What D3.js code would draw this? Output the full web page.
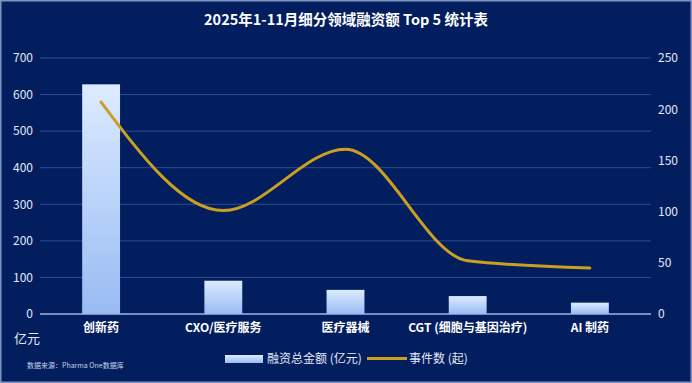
<!DOCTYPE html>
<html>
<head>
<meta charset="utf-8">
<script src="https://cdn.jsdelivr.net/npm/d3@7"></script>
<style>
    body { margin: 0; background: #021e5e; }
    svg text { font-family: "Noto Sans CJK SC", "Noto Sans", sans-serif; }
</style>
</head>
<body>
<svg id="chartSvg"></svg>
<script>
const categories = ['创新药', 'CXO/医疗服务', '医疗器械', 'CGT (细胞与基因治疗)', 'AI 制药']
const amounts = [628, 91, 66, 49, 31]
const events = [207, 101, 161, 52, 45]
const leftTicks = [0, 100, 200, 300, 400, 500, 600, 700]
const rightTicks = [0, 50, 100, 150, 200, 250]

const width = 692
const height = 383
const margin = {top: 58, right: 41, bottom: 69, left: 40}

const svg = d3.select('#chartSvg').attr('width', width).attr('height', height)

// background + border
svg.append('rect')
    .attr('x', 0.75).attr('y', 0.75)
    .attr('width', width - 1.5).attr('height', height - 1.5)
    .attr('fill', '#021e5e')
    .attr('stroke', '#7f93c0')
    .attr('stroke-width', 1.5)

const defs = svg.append('defs')
const grad = defs.append('linearGradient')
    .attr('id', 'barGrad')
    .attr('x1', 0).attr('y1', 0).attr('x2', 0).attr('y2', 1)
grad.append('stop').attr('offset', '0%').attr('stop-color', '#dcebff')
grad.append('stop').attr('offset', '100%').attr('stop-color', '#98bbf3')

const x = d3.scaleBand()
    .domain(categories)
    .range([margin.left, width - margin.right])
    .paddingInner(0.69)
    .paddingOuter(0.345)

const yLeft = d3.scaleLinear().domain([0, 700]).range([height - margin.bottom, margin.top])
const yRight = d3.scaleLinear().domain([0, 250]).range([height - margin.bottom, margin.top])

// title
svg.append('text')
    .attr('x', width / 2).attr('y', 25)
    .attr('text-anchor', 'middle')
    .attr('fill', '#ffffff')
    .attr('font-size', 14.5)
    .attr('font-weight', 'bold')
    .text('2025年1-11月细分领域融资额 Top 5 统计表')

// gridlines
svg.append('g')
    .selectAll('line')
    .data(leftTicks.filter(d => d > 0))
    .join('line')
    .attr('x1', margin.left).attr('x2', width - margin.right)
    .attr('y1', d => yLeft(d)).attr('y2', d => yLeft(d))
    .attr('stroke', '#2d4d90')
    .attr('stroke-width', 1)

// left axis
const leftAxis = svg.append('g')
    .attr('transform', 'translate(' + (margin.left - 7) + ',0)')
    .call(d3.axisLeft(yLeft).tickValues(leftTicks).tickSize(0).tickPadding(0))
leftAxis.select('.domain').remove()
leftAxis.selectAll('text').attr('fill', '#e3e9f7').attr('font-size', 12)

// right axis
const rightAxis = svg.append('g')
    .attr('transform', 'translate(' + (width - margin.right + 7) + ',0)')
    .call(d3.axisRight(yRight).tickValues(rightTicks).tickSize(0).tickPadding(0))
rightAxis.select('.domain').remove()
rightAxis.selectAll('text').attr('fill', '#e3e9f7').attr('font-size', 12)

// bars
svg.append('g')
    .selectAll('rect')
    .data(amounts)
    .join('rect')
    .attr('x', (d, i) => x(categories[i]))
    .attr('y', d => yLeft(d))
    .attr('width', x.bandwidth())
    .attr('height', d => yLeft(0) - yLeft(d))
    .attr('fill', 'url(#barGrad)')

// baseline
svg.append('line')
    .attr('x1', margin.left).attr('x2', width - margin.right)
    .attr('y1', yLeft(0)).attr('y2', yLeft(0))
    .attr('stroke', '#9fb4e2')
    .attr('stroke-width', 1.5)

// category labels
svg.append('g')
    .selectAll('text')
    .data(categories)
    .join('text')
    .attr('x', d => x(d) + x.bandwidth() / 2)
    .attr('y', 332)
    .attr('text-anchor', 'middle')
    .attr('fill', '#ffffff')
    .attr('font-size', 12)
    .attr('font-weight', 'bold')
    .text(d => d)

// line
const line = d3.line()
    .x((d, i) => x(categories[i]) + x.bandwidth() / 2)
    .y(d => yRight(d))
    .curve(d3.curveMonotoneX)

svg.append('path')
    .datum(events)
    .attr('d', line)
    .attr('fill', 'none')
    .attr('stroke', '#c9a021')
    .attr('stroke-width', 3)
    .attr('stroke-linecap', 'round')

// unit label
svg.append('text')
    .attr('x', 14).attr('y', 343)
    .attr('fill', '#e3e9f7')
    .attr('font-size', 13)
    .text('亿元')

// legend
const legend = svg.append('g')
legend.append('rect')
    .attr('x', 225).attr('y', 355)
    .attr('width', 38).attr('height', 8)
    .attr('fill', 'url(#barGrad)')
legend.append('text')
    .attr('x', 267).attr('y', 363)
    .attr('fill', '#e3e9f7')
    .attr('font-size', 12)
    .text('融资总金额 (亿元)')
legend.append('line')
    .attr('x1', 367).attr('x2', 407)
    .attr('y1', 358.5).attr('y2', 358.5)
    .attr('stroke', '#c9a021')
    .attr('stroke-width', 3)
legend.append('text')
    .attr('x', 409).attr('y', 363)
    .attr('fill', '#e3e9f7')
    .attr('font-size', 12)
    .text('事件数 (起)')

// source
svg.append('text')
    .attr('x', 27).attr('y', 368)
    .attr('fill', '#c8d2ea')
    .attr('font-size', 7)
    .text('数据来源：Pharma One数据库')
</script>
</body>
</html>
